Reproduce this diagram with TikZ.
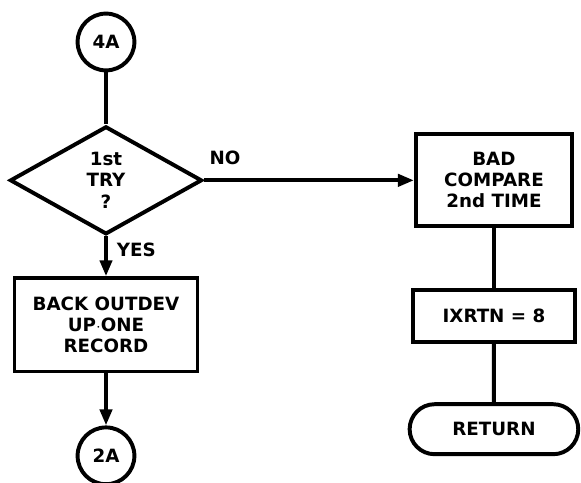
\documentclass[tikz,border=0pt]{standalone}
\usepackage{fontspec}
\setmainfont{DejaVu Sans}
\usetikzlibrary{arrows.meta, shapes.geometric, shapes.misc, positioning}

\begin{document}
\begin{tikzpicture}[>={Triangle[length=0.4cm,width=0.3cm]}, line width=2.8pt,
    font=\bfseries\fontsize{13}{15}\selectfont]
    % Style definitions
    \tikzset{connector/.style={draw, circle, minimum size=1.42cm, inner sep=0pt}}
    \tikzset{decision/.style={draw, diamond, minimum width=4.8cm, minimum height=2.7cm, inner sep=0pt, align=center}}
    \tikzset{block/.style={draw, rectangle, align=center, inner sep=2pt}}
    \tikzset{terminal/.style={draw, rounded rectangle, minimum width=4.45cm, minimum height=1.25cm}}
    \tikzset{arrow/.style={->}}

    \useasboundingbox (0,0) rectangle (14.525,-12.075);

    % Nodes
    \node [connector] (c4a) at (2.65,-1.05) {4A};
    \node [decision, below=1.3cm of c4a] (try) {1st\\TRY\\?};
    \node [block, minimum width=4.575cm, minimum height=2.33cm, below=1.0cm of try] (back) {BACK OUTDEV\\UP$\cdot$ONE\\RECORD};
    \node [connector, below=1.3cm of back] (c2a) {2A};

    % Right branch
    \node [block, minimum width=3.9cm, minimum height=2.3cm, right=5.25cm of try] (bad) {BAD\\COMPARE\\2nd TIME};
    \node [block, minimum width=4.05cm, minimum height=1.3cm, below=1.5cm of bad] (ixrtn) {IXRTN = 8};
    \node [terminal, below=1.45cm of ixrtn] (ret) {RETURN};

    % Arrows
    \draw (c4a) -- (try);
    \draw [arrow] (try) -- node [right, pos=0.35, xshift=3pt] {YES} (back);
    \draw [arrow] (back) -- (c2a);
    \draw [arrow] (try) -- node [above, pos=0.1, yshift=6pt] {NO} (bad);
    \draw (bad) -- (ixrtn);
    \draw (ixrtn) -- (ret);
\end{tikzpicture}
\end{document}
